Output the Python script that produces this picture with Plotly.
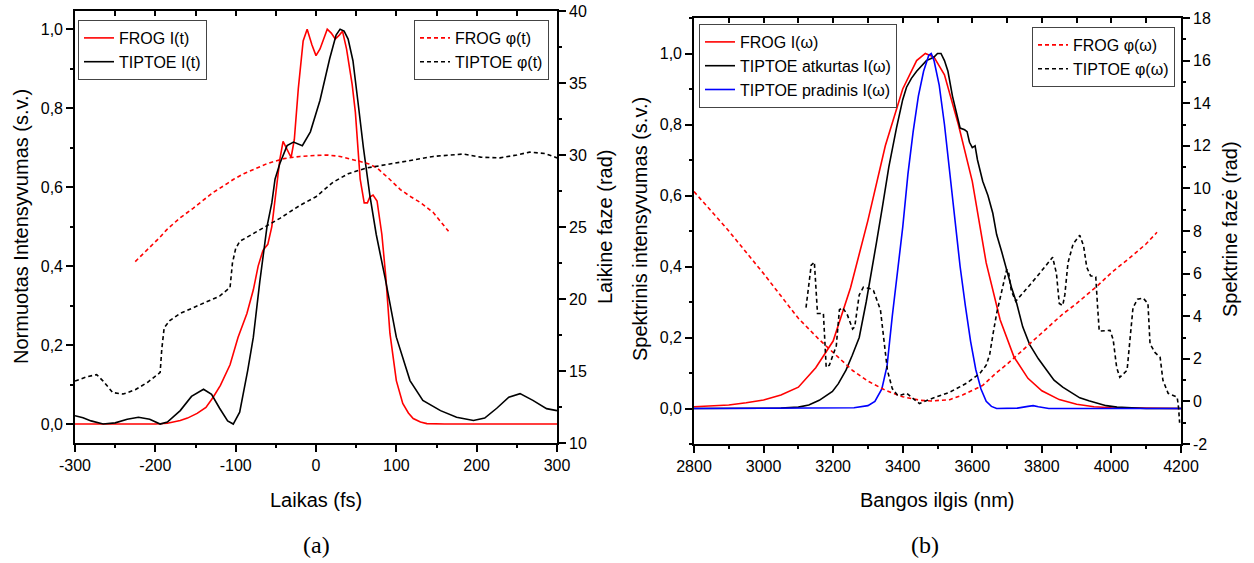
import plotly.graph_objects as go

# ---------------- (a) time domain ----------------
t_frog_I = [-300, -250, -200, -185, -169, -160, -148, -137, -128, -119, -107, -97, -86, -78, -72, -66, -60,
            -55, -50, -45, -41, -36, -31, -27, -22, -16, -11, -5, 0, 5, 10, 14, 19, 24, 29, 33, 38, 45, 49,
            55, 60, 64, 67, 71, 76, 82, 87, 92, 100, 108, 115, 121, 130, 138, 160, 200, 250, 300]
I_frog_t = [0, 0, 0, 0.002, 0.009, 0.015, 0.027, 0.042, 0.068, 0.098, 0.15, 0.22, 0.28, 0.34, 0.40, 0.44, 0.455,
            0.50, 0.59, 0.67, 0.716, 0.695, 0.675, 0.72, 0.85, 0.97, 1.0, 0.96, 0.933, 0.95, 0.98, 1.0, 0.99,
            0.975, 0.985, 0.995, 0.95, 0.86, 0.79, 0.62, 0.56, 0.56, 0.575, 0.58, 0.565, 0.48, 0.37, 0.23,
            0.11, 0.052, 0.028, 0.014, 0.005, 0.001, 0, 0, 0, 0]

t_tip_I = [-300, -290, -280, -265, -250, -235, -221, -207, -194, -185, -169, -155, -140, -130, -120, -110, -103,
           -95, -85, -78, -70, -61, -55, -51, -45, -36, -28, -17, -7, 5, 17, 25, 30, 35, 40, 46, 52, 59, 67,
           75, 80, 86, 100, 117, 133, 155, 175, 196, 210, 225, 240, 254, 270, 287, 300]
I_tip_t = [0.021, 0.016, 0.008, 0.0, 0.003, 0.012, 0.017, 0.012, 0.0, 0.005, 0.034, 0.07, 0.088, 0.075, 0.04,
           0.008, 0.0, 0.03, 0.136, 0.22, 0.36, 0.50, 0.56, 0.62, 0.66, 0.705, 0.714, 0.705, 0.74, 0.82, 0.925,
           0.985, 1.0, 0.995, 0.975, 0.92, 0.82, 0.70, 0.58, 0.48, 0.43, 0.37, 0.22, 0.11, 0.06, 0.034, 0.017,
           0.009, 0.015, 0.04, 0.068, 0.077, 0.06, 0.039, 0.034]

t_frog_phi = [-225, -210, -194, -186, -170, -153, -144, -128, -111, -103, -90, -70, -61, -40, -20, 0, 14, 30,
              42, 55, 65, 76, 90, 105, 118, 130, 146, 155, 165]
phi_frog_t = [22.6, 23.4, 24.3, 24.8, 25.6, 26.3, 26.7, 27.4, 28.0, 28.3, 28.7, 29.2, 29.4, 29.75, 29.9, 29.97,
              30.0, 29.9, 29.75, 29.55, 29.4, 29.1, 28.4, 27.6, 27.1, 26.7, 26.0, 25.4, 24.7]

t_tip_phi = [-300, -285, -273, -265, -253, -240, -225, -210, -194, -192, -189, -182, -169, -144, -120, -107,
             -104, -100, -95, -70, -45, -20, 0, 21, 40, 63, 80, 105, 146, 183, 205, 229, 250, 266, 285, 300]
phi_tip_t = [14.3, 14.6, 14.75, 14.3, 13.5, 13.4, 13.7, 14.2, 14.9, 16.5, 18.0, 18.5, 19.0, 19.6, 20.2, 20.8,
             22.5, 23.5, 24.0, 24.8, 25.6, 26.5, 27.1, 28.1, 28.7, 29.1, 29.25, 29.5, 29.9, 30.07, 29.85, 29.8,
             30.0, 30.2, 30.1, 29.8]

# ---------------- (b) spectral domain ----------------
lam_frog_I = [2800, 2850, 2900, 2950, 3000, 3050, 3100, 3150, 3200, 3250, 3300, 3350, 3400, 3440, 3465, 3490,
              3520, 3560, 3600, 3640, 3680, 3720, 3760, 3800, 3850, 3900, 3950, 4000, 4100, 4200]
I_frog_w = [0.005, 0.007, 0.01, 0.016, 0.024, 0.038, 0.06, 0.115, 0.19, 0.34, 0.53, 0.74, 0.90, 0.98, 1.0, 0.99,
            0.94, 0.80, 0.64, 0.41, 0.25, 0.145, 0.085, 0.05, 0.025, 0.012, 0.005, 0.002, 0.0, 0.0]

lam_tip_I = [2800, 2900, 3000, 3050, 3100, 3130, 3160, 3180, 3198, 3215, 3237, 3255, 3275, 3295, 3310, 3325,
             3342, 3360, 3382, 3400, 3411, 3425, 3440, 3455, 3468, 3480, 3490, 3500, 3510, 3520, 3530, 3543,
             3555, 3565, 3578, 3585, 3592, 3600, 3608, 3615, 3630, 3645, 3659, 3670, 3685, 3699, 3713, 3728,
             3745, 3765, 3790, 3814, 3835, 3860, 3885, 3909, 3935, 3958, 3985, 4016, 4050, 4100, 4200]
I_tip_w = [0, 0, 0, 0.001, 0.004, 0.01, 0.023, 0.035, 0.048, 0.07, 0.108, 0.15, 0.2, 0.3, 0.38, 0.47,
           0.57, 0.68, 0.79, 0.87, 0.905, 0.93, 0.95, 0.965, 0.98, 0.985, 0.99, 1.0, 1.0, 0.98, 0.95, 0.88,
           0.83, 0.79, 0.785, 0.78, 0.75, 0.735, 0.74, 0.70, 0.64, 0.6, 0.55, 0.49, 0.44, 0.39, 0.34, 0.295,
           0.23, 0.18, 0.14, 0.108, 0.08, 0.06, 0.045, 0.03, 0.022, 0.015, 0.008, 0.004, 0.002, 0.0, 0.0]

lam_init_I = [2800, 3000, 3200, 3260, 3300, 3320, 3340, 3355, 3370, 3385, 3400, 3415, 3430, 3445, 3460, 3475,
              3482, 3490, 3505, 3520, 3535, 3550, 3565, 3580, 3595, 3610, 3625, 3640, 3655, 3670, 3700, 3730,
              3760, 3775, 3790, 3820, 4000, 4200]
I_init_w = [0, 0, 0, 0.002, 0.008, 0.02, 0.055, 0.12, 0.26, 0.38, 0.51, 0.66, 0.78, 0.88, 0.95, 0.995,
            1.0, 0.98, 0.91, 0.80, 0.67, 0.53, 0.40, 0.29, 0.19, 0.11, 0.055, 0.02, 0.006, 0.0, 0.0, 0.001,
            0.006, 0.008, 0.005, 0.0, 0.0, 0.0]

lam_frog_phi = [2800, 2900, 3000, 3065, 3100, 3160, 3200, 3256, 3300, 3353, 3400, 3450, 3480, 3535, 3572, 3630,
                3670, 3700, 3765, 3800, 3860, 3900, 3958, 4004, 4050, 4100, 4131]
phi_frog_w = [9.85, 8.0, 6.0, 4.6, 3.9, 2.9, 2.3, 1.45, 0.95, 0.5, 0.22, 0.05, 0.02, 0.08, 0.3, 0.75,
              1.35, 1.75, 2.7, 3.2, 4.1, 4.6, 5.4, 6.1, 6.7, 7.4, 7.94]

lam_tip_phi = [3122, 3137, 3146, 3152, 3155, 3172, 3176, 3180, 3189, 3198, 3209, 3218, 3227, 3240, 3256, 3262,
               3275, 3287, 3305, 3316, 3336, 3356, 3370, 3385, 3395, 3411, 3428, 3448, 3486, 3535, 3583, 3621,
               3640, 3650, 3660, 3670, 3685, 3699, 3705, 3712, 3725, 3785, 3831, 3842, 3850, 3860, 3866, 3875,
               3890, 3909, 3920, 3929, 3940, 3955, 3960, 3965, 3996, 4005, 4015, 4024, 4045, 4055, 4062, 4075,
               4091, 4105, 4111, 4125, 4140, 4148, 4163, 4189, 4193, 4196]
phi_tip_w = [4.4, 6.4, 6.54, 5.0, 4.13, 4.13, 3.0, 1.6, 1.7, 2.07, 2.6, 4.3, 4.4, 4.1, 3.4, 3.5,
             5.0, 5.36, 5.3, 5.2, 4.3, 1.46, 0.6, 0.29, 0.3, 0.38, 0.15, -0.1, 0.15, 0.43, 0.85, 1.3,
             1.7, 2.2, 3.2, 4.13, 5.2, 6.2, 6.0, 5.2, 4.7, 5.84, 6.77, 6.0, 4.6, 4.5, 5.0, 6.5,
             7.4, 7.8, 7.3, 6.3, 5.9, 5.84, 4.5, 3.3, 3.34, 2.9, 1.6, 1.13, 1.46, 3.0, 4.4, 4.8,
             4.85, 4.6, 2.7, 2.3, 2.07, 1.0, 0.38, 0.2, -0.3, -1.0]

# ---------------- tick labels ----------------
time_ticks = [-300, -200, -100, 0, 100, 200, 300]
time_ticktext = ["-300", "-200", "-100", "0", "100", "200", "300"]
int_ticks = [0.0, 0.2, 0.4, 0.6, 0.8, 1.0]
int_ticktext = ["0,0", "0,2", "0,4", "0,6", "0,8", "1,0"]
tphase_ticks = [10, 15, 20, 25, 30, 35, 40]
tphase_ticktext = ["10", "15", "20", "25", "30", "35", "40"]
wl_ticks = [2800, 3000, 3200, 3400, 3600, 3800, 4000, 4200]
wl_ticktext = ["2800", "3000", "3200", "3400", "3600", "3800", "4000", "4200"]
sphase_ticks = [-2, 0, 2, 4, 6, 8, 10, 12, 14, 16, 18]
sphase_ticktext = ["-2", "0", "2", "4", "6", "8", "10", "12", "14", "16", "18"]

W, H = 1254, 563
FONT = "Liberation Sans, Arial, sans-serif"
RED, BLACK, BLUE = "#ff0000", "#000000", "#0000ff"
DASH = "4px,3px"

fig = go.Figure()

def line(x, y, name, color, xa, ya, legend, dash=None):
    fig.add_trace(go.Scatter(x=x, y=y, name=name, mode="lines", xaxis=xa, yaxis=ya, legend=legend,
                             line=dict(color=color, width=1.6, dash=dash)))

line(t_frog_I, I_frog_t, "FROG I(t)", RED, "x", "y", "legend")
line(t_tip_I, I_tip_t, "TIPTOE I(t)", BLACK, "x", "y", "legend")
line(t_frog_phi, phi_frog_t, "FROG φ(t)", RED, "x", "y2", "legend2", DASH)
line(t_tip_phi, phi_tip_t, "TIPTOE φ(t)", BLACK, "x", "y2", "legend2", DASH)

line(lam_frog_I, I_frog_w, "FROG I(ω)", RED, "x2", "y3", "legend3")
line(lam_tip_I, I_tip_w, "TIPTOE atkurtas I(ω)", BLACK, "x2", "y3", "legend3")
line(lam_init_I, I_init_w, "TIPTOE pradinis I(ω)", BLUE, "x2", "y3", "legend3")
line(lam_frog_phi, phi_frog_w, "FROG φ(ω)", RED, "x2", "y4", "legend4", DASH)
line(lam_tip_phi, phi_tip_w, "TIPTOE φ(ω)", BLACK, "x2", "y4", "legend4", DASH)

# invisible copies that only serve to realise the extra tick axes (top inward ticks and minor ticks)
def ghost(x, y, xa, ya):
    fig.add_trace(go.Scatter(x=x, y=y, xaxis=xa, yaxis=ya, mode="lines", opacity=0, showlegend=False,
                             hoverinfo="skip", line=dict(width=1, color="white")))

ghost(t_tip_I, I_tip_t, "x3", "y")    # top inward ticks, left panel
ghost(t_tip_I, I_tip_t, "x5", "y")    # bottom minor ticks, left panel
ghost(t_tip_I, I_tip_t, "x", "y5")    # left minor ticks, left panel
ghost(t_tip_phi, phi_tip_t, "x", "y6")  # right minor ticks, left panel
ghost(lam_tip_I, I_tip_w, "x4", "y3")
ghost(lam_tip_I, I_tip_w, "x6", "y3")
ghost(lam_tip_I, I_tip_w, "x2", "y7")
ghost(lam_tip_phi, phi_tip_w, "x2", "y8")

xa_dom = [75 / W, 557 / W]
xb_dom = [694 / W, 1181 / W]
ya_dom = [1 - 443 / H, 1 - 11 / H]
yb_dom = [1 - 444 / H, 1 - 18 / H]

tickfont = dict(family=FONT, size=16, color="black")
base = dict(showgrid=False, zeroline=False, showline=True, linecolor="black", linewidth=1.6,
            ticks="outside", tickwidth=1.5, tickcolor="black", ticklen=7, tickfont=tickfont,
            tickmode="array", automargin=False)

def minor_ax(**kw):
    d = dict(showgrid=False, zeroline=False, showline=False, ticks="outside", ticklen=4, tickwidth=1.5,
             tickcolor="black", showticklabels=False, tickmode="linear", automargin=False)
    d.update(kw)
    return d

def top_ax(**kw):
    d = dict(showgrid=False, zeroline=False, showline=False, ticks="inside", ticklen=5, tickwidth=1.5,
             tickcolor="black", showticklabels=False, tickmode="linear", side="top", automargin=False)
    d.update(kw)
    return d

fig.update_layout(
    width=W, height=H, margin=dict(l=0, r=0, t=0, b=0),
    paper_bgcolor="white", plot_bgcolor="white", template="none",
    # left panel
    xaxis=dict(base, domain=xa_dom, anchor="y", range=[-300, 300], tickvals=time_ticks,
               ticktext=time_ticktext, mirror=True),
    yaxis=dict(base, domain=ya_dom, anchor="x", range=[-0.048, 1.046], tickvals=int_ticks,
               ticktext=int_ticktext),
    yaxis2=dict(base, domain=ya_dom, anchor="x", overlaying="y", side="right", range=[10, 40],
                tickvals=tphase_ticks, ticktext=tphase_ticktext),
    xaxis3=top_ax(domain=xa_dom, anchor="y", overlaying="x", range=[-300, 300], tick0=0, dtick=50),
    xaxis5=minor_ax(domain=xa_dom, anchor="y", overlaying="x", side="bottom", range=[-300, 300],
                    tick0=0, dtick=50),
    yaxis5=minor_ax(domain=ya_dom, anchor="x", overlaying="y", side="left", range=[-0.048, 1.046],
                    tick0=0, dtick=0.1),
    yaxis6=minor_ax(domain=ya_dom, anchor="x", overlaying="y", side="right", range=[10, 40],
                    tick0=10, dtick=2.5),
    # right panel
    xaxis2=dict(base, domain=xb_dom, anchor="y3", range=[2800, 4200], tickvals=wl_ticks,
                ticktext=wl_ticktext, mirror=True),
    yaxis3=dict(base, domain=yb_dom, anchor="x2", range=[-0.1, 1.1], tickvals=int_ticks,
                ticktext=int_ticktext),
    yaxis4=dict(base, domain=yb_dom, anchor="x2", overlaying="y3", side="right", range=[-2, 18],
                tickvals=sphase_ticks, ticktext=sphase_ticktext),
    xaxis4=top_ax(domain=xb_dom, anchor="y3", overlaying="x2", range=[2800, 4200], tick0=2800, dtick=100),
    xaxis6=minor_ax(domain=xb_dom, anchor="y3", overlaying="x2", side="bottom", range=[2800, 4200],
                    tick0=2800, dtick=100),
    yaxis7=minor_ax(domain=yb_dom, anchor="x2", overlaying="y3", side="left", range=[-0.1, 1.1],
                    tick0=0, dtick=0.1),
    yaxis8=minor_ax(domain=yb_dom, anchor="x2", overlaying="y3", side="right", range=[-2, 18],
                    tick0=0, dtick=1),
)

leg = dict(bgcolor="white", bordercolor="#444444", borderwidth=1, font=dict(family=FONT, size=16, color="black"),
           tracegroupgap=0, itemwidth=30, yanchor="top")
fig.update_layout(
    legend=dict(leg, x=78 / W, y=1 - 20 / H, xanchor="left"),
    legend2=dict(leg, x=549 / W, y=1 - 20 / H, xanchor="right"),
    legend3=dict(leg, x=699 / W, y=1 - 24 / H, xanchor="left"),
    legend4=dict(leg, x=1175 / W, y=1 - 27 / H, xanchor="right"),
)

def ann(text, x, y, angle=0, size=20, family=FONT):
    fig.add_annotation(text=text, x=x / W, y=1 - y / H, xref="paper", yref="paper", showarrow=False,
                       textangle=angle, xanchor="center", yanchor="middle",
                       font=dict(family=family, size=size, color="black"))

ann("Laikas (fs)", 316, 500)
ann("Bangos ilgis (nm)", 937, 500)
ann("Normuotas Intensyvumas (s.v.)", 21, 227, -90)
ann("Laikine faze (rad)", 605, 227, -90)
ann("Spektrinis intensyvumas (s.v.)", 640, 229, -90)
ann("Spektrine fazė (rad)", 1230, 229, -90)
ann("(a)", 316, 545, size=24, family="Liberation Serif, serif")
ann("(b)", 925, 545, size=24, family="Liberation Serif, serif")

fig.write_html("out.html")
